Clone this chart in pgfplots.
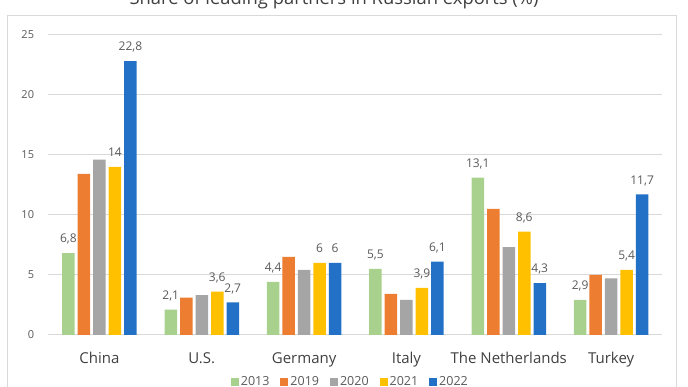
\documentclass[border=0pt]{standalone}
\usepackage{fontspec}
\setmainfont{Open Sans}
\usepackage{pgfplots}
\pgfplotsset{compat=1.18}
\definecolor{cgreen}{HTML}{A9D18E}
\definecolor{corange}{HTML}{ED7D31}
\definecolor{cgray}{HTML}{A5A5A5}
\definecolor{cyellow}{HTML}{FFC000}
\definecolor{cblue}{HTML}{2271C6}
\definecolor{gridc}{HTML}{D9D9D9}
\definecolor{lab}{HTML}{595959}
\definecolor{dark}{HTML}{404040}
\begin{document}
\begin{tikzpicture}[x=1pt,y=1pt]
\path (0,0) rectangle (688,387);
\draw[overlay, gridc, line width=1pt] (7,-5) -- (7,371) -- (676,371) -- (676,-5);
\node[overlay, font=\fontsize{18.4}{20}\selectfont, color=dark, anchor=base] at (334,382) {Share of leading partners in Russian exports (\%)};
\begin{axis}[
  at={(97.17,43.5)}, anchor=origin,
  scale only axis, width=614pt, height=300pt,
  xmin=-0.5, xmax=5.5, ymin=0, ymax=25,
  ytick={0,5,...,25},
  xtick={0,1,2,3,4,5},
  xticklabels={China, U.S., Germany, Italy, The Netherlands, Turkey},
  axis line style={draw=none},
  tick style={draw=none},
  ymajorgrids, xmajorgrids=false, grid style={gridc, line width=0.9pt},
  /pgf/number format/assume math mode=true,
  /pgf/number format/use comma,
  yticklabel style={font=\fontsize{11}{13}\selectfont, color=lab, anchor=east, inner sep=0pt, xshift=-14pt},
  xticklabel style={font=\fontsize{15}{17}\selectfont, color=dark, anchor=base, inner sep=0pt, yshift=-24pt},
  ybar=3pt, bar width=12.5pt,
  legend image code/.code={\fill[#1] (0pt,-4pt) rectangle (8pt,4pt);},
  legend style={overlay, at={(0.492,-0.158)}, anchor=center, legend columns=-1, draw=none, fill=none,
    font=\fontsize{12.5}{14}\selectfont, text=lab,
    /tikz/every even column/.append style={column sep=9pt}},
  every node near coord/.append style={font=\fontsize{12}{14}\selectfont, color=lab, inner sep=0pt, text depth=0pt, yshift=10pt},
]
\addplot[fill=cgreen, draw=none, nodes near coords] coordinates {(0,6.8) (1,2.1) (2,4.4) (3,5.5) (4,13.1) (5,2.9)};
\addplot[fill=corange, draw=none] coordinates {(0,13.4) (1,3.1) (2,6.5) (3,3.4) (4,10.5) (5,5.0)};
\addplot[fill=cgray, draw=none] coordinates {(0,14.6) (1,3.3) (2,5.4) (3,2.9) (4,7.3) (5,4.7)};
\addplot[fill=cyellow, draw=none, nodes near coords] coordinates {(0,14) (1,3.6) (2,6) (3,3.9) (4,8.6) (5,5.4)};
\addplot[fill=cblue, draw=none, nodes near coords] coordinates {(0,22.8) (1,2.7) (2,6) (3,6.1) (4,4.3) (5,11.7)};
\legend{2013,2019,2020,2021,2022}
\end{axis}
\end{tikzpicture}
\end{document}
